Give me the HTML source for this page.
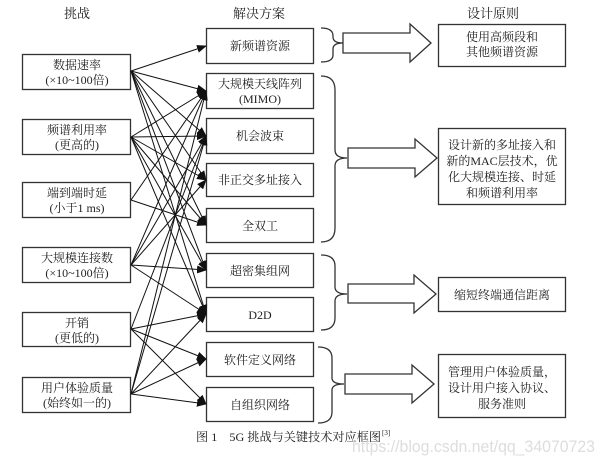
<!DOCTYPE html>
<html><head><meta charset="utf-8"><style>
html,body{margin:0;padding:0;background:#fff;}
svg{display:block;}
text{font-family:"Liberation Serif","Noto Serif CJK SC","Noto Sans CJK SC",serif;fill:#222;}
</style></head><body>
<svg width="605" height="465" viewBox="0 0 605 465" xmlns="http://www.w3.org/2000/svg">
<defs>
<marker id="ah" markerWidth="10" markerHeight="8" refX="9" refY="4" orient="auto" markerUnits="userSpaceOnUse">
<path d="M0,0 L10,4 L0,8 Z" fill="#111"/>
</marker>
</defs>
<rect width="605" height="465" fill="#fff"/>
<text x="77" y="18" font-size="13" text-anchor="middle">挑战</text>
<text x="259" y="18" font-size="13" text-anchor="middle">解决方案</text>
<text x="493" y="18" font-size="13" text-anchor="middle">设计原则</text>

<g fill="#fff" stroke="#333" stroke-width="1.3">
<rect x="22.5" y="54.5" width="108" height="35"/>
<rect x="22.5" y="119.5" width="108" height="35"/>
<rect x="22.5" y="182.5" width="108" height="35"/>
<rect x="22.5" y="247.5" width="108" height="35"/>
<rect x="22.5" y="312.5" width="108" height="34"/>
<rect x="22.5" y="377.5" width="108" height="35"/>
<rect x="206.5" y="28.5" width="107" height="35"/>
<rect x="206.5" y="73.5" width="107" height="35"/>
<rect x="206.5" y="118.5" width="107" height="35"/>
<rect x="206.5" y="163.5" width="107" height="33"/>
<rect x="206.5" y="208.5" width="107" height="34"/>
<rect x="206.5" y="253.5" width="107" height="34"/>
<rect x="206.5" y="297.5" width="107" height="34"/>
<rect x="206.5" y="342.5" width="107" height="34"/>
<rect x="206.5" y="387.5" width="107" height="34"/>
<rect x="438.5" y="24.5" width="127" height="42"/>
<rect x="438.5" y="128.5" width="127" height="76"/>
<rect x="438.5" y="277.5" width="127" height="34"/>
<rect x="438.5" y="354.5" width="127" height="63"/>
</g>

<g font-size="12" text-anchor="middle">
<text x="77" y="69">数据速率</text><text x="77" y="84">(×10~100倍)</text>
<text x="77" y="134">频谱利用率</text><text x="77" y="149">(更高的)</text>
<text x="77" y="197">端到端时延</text><text x="77" y="212">(小于1 ms)</text>
<text x="77" y="262">大规模连接数</text><text x="77" y="277">(×10~100倍)</text>
<text x="77" y="327">开销</text><text x="77" y="342">(更低的)</text>
<text x="77" y="392">用户体验质量</text><text x="77" y="407">(始终如一的)</text>

<text x="260" y="50">新频谱资源</text>
<text x="260" y="88">大规模天线阵列</text><text x="260" y="103">(MIMO)</text>
<text x="260" y="140">机会波束</text>
<text x="260" y="184">非正交多址接入</text>
<text x="260" y="230">全双工</text>
<text x="260" y="275">超密集组网</text>
<text x="260" y="319">D2D</text>
<text x="260" y="364">软件定义网络</text>
<text x="260" y="409">自组织网络</text>

<text x="502" y="41">使用高频段和</text><text x="502" y="56">其他频谱资源</text>
<text x="502" y="149">设计新的多址接入和</text><text x="502" y="165">新的MAC层技术，优</text>
<text x="502" y="181">化大规模连接、时延</text><text x="502" y="197">和频谱利用率</text>
<text x="502" y="299">缩短终端通信距离</text>
<text x="502" y="376">管理用户体验质量，</text><text x="502" y="392">设计用户接入协议、</text><text x="502" y="408">服务准则</text>
</g>

<g stroke="#111" stroke-width="1" marker-end="url(#ah)" fill="none">
<line x1="131" y1="71" x2="206" y2="46"/>
<line x1="131" y1="71" x2="206" y2="91"/>
<line x1="131" y1="71" x2="206" y2="136"/>
<line x1="131" y1="71" x2="206" y2="180"/>
<line x1="131" y1="71" x2="206" y2="225"/>
<line x1="131" y1="71" x2="206" y2="270"/>
<line x1="131" y1="71" x2="206" y2="314"/>
<line x1="131" y1="137" x2="206" y2="91"/>
<line x1="131" y1="137" x2="206" y2="136"/>
<line x1="131" y1="137" x2="206" y2="180"/>
<line x1="131" y1="137" x2="206" y2="225"/>
<line x1="131" y1="137" x2="206" y2="270"/>
<line x1="131" y1="137" x2="206" y2="314"/>
<line x1="131" y1="200" x2="206" y2="91"/>
<line x1="131" y1="200" x2="206" y2="225"/>
<line x1="131" y1="265" x2="206" y2="91"/>
<line x1="131" y1="265" x2="206" y2="136"/>
<line x1="131" y1="265" x2="206" y2="180"/>
<line x1="131" y1="265" x2="206" y2="270"/>
<line x1="131" y1="265" x2="206" y2="314"/>
<line x1="131" y1="329" x2="206" y2="136"/>
<line x1="131" y1="329" x2="206" y2="314"/>
<line x1="131" y1="329" x2="206" y2="359"/>
<line x1="131" y1="329" x2="206" y2="404"/>
<line x1="131" y1="394" x2="206" y2="91"/>
<line x1="131" y1="394" x2="206" y2="136"/>
<line x1="131" y1="394" x2="206" y2="314"/>
<line x1="131" y1="394" x2="206" y2="359"/>
<line x1="131" y1="394" x2="206" y2="404"/>
</g>

<g stroke="#333" stroke-width="1.3" fill="none">
<path d="M321,28 Q333,28 333,36 L333,37 Q333,43 343,43 Q333,43 333,49 L333,55 Q333,62 321,62"/>
<path d="M321,76 Q335,76 335,90 L335,150 Q335,158 347,158 Q335,158 335,166 L335,228 Q335,242 321,242"/>
<path d="M321,255 Q335,255 335,266 L335,287 Q335,294 347,294 Q335,294 335,301 L335,318 Q335,330 321,330"/>
<path d="M318,347 Q332,347 332,358 L332,378 Q332,384 344,384 Q332,384 332,390 L332,412 Q332,423 318,423"/>
</g>

<g stroke="#333" stroke-width="1.3" fill="#fff">
<path d="M343,33 L410,33 L410,24 L431,43 L410,62 L410,53 L343,53 Z"/>
<path d="M348,148 L415,148 L415,139 L437,158 L415,177 L415,168 L348,168 Z"/>
<path d="M348,284 L414,284 L414,275 L436,294 L414,313 L414,303 L348,303 Z"/>
<path d="M345,374 L412,374 L412,365 L434,384 L412,403 L412,394 L345,394 Z"/>
</g>

<text x="196" y="441" font-size="12" textLength="185" lengthAdjust="spacingAndGlyphs">图 1　5G 挑战与关键技术对应框图</text>
<text x="382" y="435" font-size="7">[3]</text>
<text x="352" y="452" font-size="17" textLength="243" lengthAdjust="spacingAndGlyphs" style="font-family:'Liberation Sans',sans-serif;fill:#ddd">https://blog.csdn.net/qq_34070723</text>
</svg>
</body></html>
